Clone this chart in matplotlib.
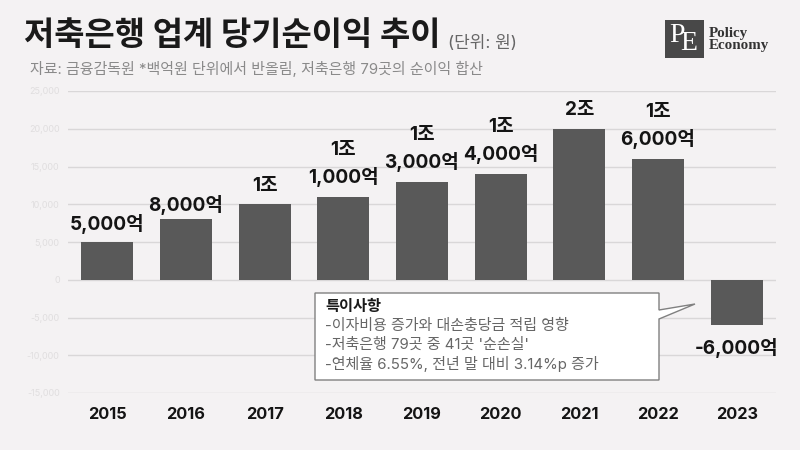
import matplotlib
matplotlib.use("Agg")
import matplotlib.pyplot as plt
from matplotlib.patches import Rectangle, Polygon

plt.rcParams['font.family'] = ['Inter', 'Noto Sans CJK KR', 'DejaVu Sans']

years = ['2015', '2016', '2017', '2018', '2019', '2020', '2021', '2022', '2023']
profits = [5000, 8000, 10000, 11000, 13000, 14000, 20000, 16000, -6000]
bar_labels = ['5,000억', '8,000억', '1조', '1조\n1,000억', '1조\n3,000억',
              '1조\n4,000억', '2조', '1조\n6,000억', '-6,000억']
y_ticks = [-15000, -10000, -5000, 0, 5000, 10000, 15000, 20000, 25000]
title = '저축은행 업계 당기순이익 추이'
unit = '(단위: 원)'
source = '자료: 금융감독원 *백억원 단위에서 반올림, 저축은행 79곳의 순이익 합산'
note_head = '특이사항'
note_lines = ['-이자비용 증가와 대손충당금 적립 영향',
              "-저축은행 79곳 중 41곳 '순손실'",
              '-연체율 6.55%, 전년 말 대비 3.14%p 증가']

BG = '#f4f2f3'
W, H = 800, 450
fig = plt.figure(figsize=(8, 4.5), dpi=100, facecolor=BG)
ax = fig.add_axes([68 / W, 1 - 393 / H, (776 - 68) / W, (393 - 91) / H], facecolor=BG)

def fx(x):
    return x / W

def fy(y):
    return 1 - y / H

xs = list(range(len(years)))
ax.bar(xs, profits, width=0.66, color='#595959', zorder=3)
ax.set_xlim(-0.5, 8.5)
ax.set_ylim(-15000, 25000)
ax.set_yticks(y_ticks)
ax.set_yticklabels([f'{v:,}' for v in y_ticks], fontsize=6.5, color='#e0dedf')
ax.set_xticks(xs)
ax.set_xticklabels(years, fontsize=11.8, fontweight='bold', color='#141414')
ax.tick_params(axis='both', length=0)
ax.tick_params(axis='y', pad=6)
ax.tick_params(axis='x', pad=10)
ax.grid(axis='y', color='#d9d7d8', linewidth=1, zorder=0)
ax.set_axisbelow(True)
for s in ax.spines.values():
    s.set_visible(False)

label_gaps = [5.5, 3, 7, 7, 7, 7, 7, 7, -9.5]
for x, v, lab, gap in zip(xs, profits, bar_labels, label_gaps):
    ax.annotate(lab, (x, v), xytext=(0, gap), textcoords='offset points', ha='center',
                va='bottom' if v >= 0 else 'top', fontsize=13.7, fontweight='bold',
                color='#141414', linespacing=1.5, zorder=5)

fig.text(fx(24), fy(37), title, fontsize=23.7, fontweight='bold', color='#1a1a1a', va='center', ha='left')
fig.text(fx(448), fy(43), unit, fontsize=12.2, color='#666666', va='center', ha='left')
fig.text(fx(30), fy(69), source, fontsize=10.8, color='#8a8a8a', va='center', ha='left')

# logo
fig.patches.append(Rectangle((fx(665), fy(58)), 39 / W, 38 / H, transform=fig.transFigure,
                             facecolor='#484848', edgecolor='none'))
fig.add_artist(Polygon([(fx(692), fy(25)), (fx(700), fy(25)), (fx(700), fy(32))], closed=True,
                       transform=fig.transFigure, facecolor='white', edgecolor='none'))
fig.text(fx(677), fy(36), 'P', family='Liberation Serif', fontsize=20, color='white', ha='center', va='center')
fig.text(fx(689), fy(44), 'E', family='Liberation Serif', fontsize=20, color='white', ha='center', va='center')
fig.text(fx(709), fy(33.5), 'Policy', family='Liberation Serif', fontsize=10.8, fontweight='bold',
         color='#333333', ha='left', va='center')
fig.text(fx(709), fy(45.5), 'Economy', family='Liberation Serif', fontsize=10.8, fontweight='bold',
         color='#333333', ha='left', va='center')

# callout
callout = [(315, 293), (659, 293), (659, 310), (695, 304), (659, 319), (659, 380), (315, 380)]
fig.add_artist(Polygon([(fx(a), fy(b)) for a, b in callout], closed=True, transform=fig.transFigure,
                       facecolor='white', edgecolor='#808080', linewidth=1, zorder=6))
fig.text(fx(325), fy(306), note_head, fontsize=11, fontweight='bold', color='#1a1a1a', va='center', zorder=7)
for i, line in enumerate(note_lines):
    fig.text(fx(325), fy(325.5 + 19 * i), line, fontsize=10.8, color='#666666', va='center', zorder=7)

fig.savefig('out.png', dpi=100, facecolor=BG)
